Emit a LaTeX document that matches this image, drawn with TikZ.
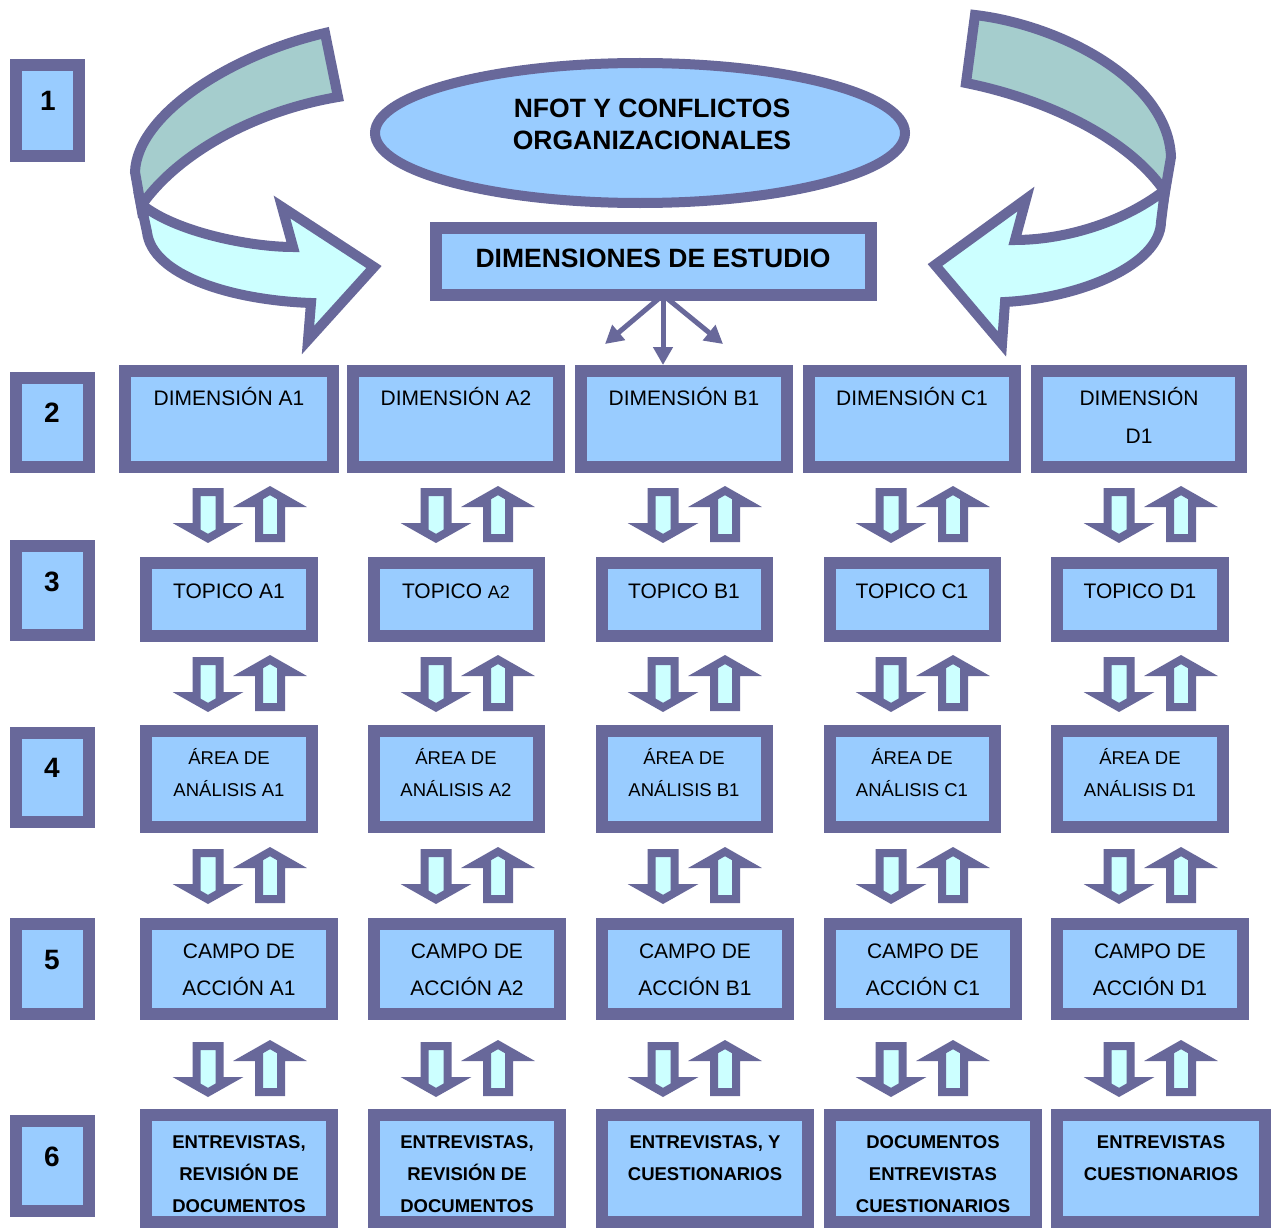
\documentclass[tikz,border=0pt]{standalone}
\usepackage{fontspec}
\setmainfont{Liberation Sans}
\usetikzlibrary{arrows.meta,calc,shapes.geometric}

\definecolor{frame}{RGB}{104,104,154}
\definecolor{boxfill}{RGB}{153,204,255}
\definecolor{backband}{RGB}{165,205,205}
\definecolor{frontband}{RGB}{204,255,255}

\tikzset{
  box/.style={draw=frame, fill=boxfill, line width=12pt, inner sep=0pt, outer sep=0pt, rectangle},
  lbl/.style={inner sep=0pt, text height=15pt, text depth=0pt, font=\fontsize{21}{25}\selectfont},
  smlbl/.style={inner sep=0pt, text height=13.3pt, text depth=0pt, font=\fontsize{18.5}{22}\selectfont},
  blbl/.style={inner sep=0pt, text height=13.3pt, text depth=0pt, font=\fontsize{18.5}{22}\selectfont\bfseries},
  headlbl/.style={inner sep=0pt, text height=19pt, text depth=0pt, font=\fontsize{26.5}{30}\selectfont\bfseries},
  numlbl/.style={inner sep=0pt, text height=20pt, text depth=0pt, font=\fontsize{28}{32}\selectfont\bfseries},
  ribbon/.style={draw=frame, line width=10pt, line join=miter},
  blockarrow/.style={draw=frame, fill=frontband, line width=8pt, line join=miter},
  fanarrow/.style={draw=frame, line width=5pt, -{Triangle[length=18pt,width=19pt]}},
}

% panel: name, left, top, right, bottom (outer edges of the frame)
\newcommand\panel[5]{%
  \pgfmathsetmacro\pcx{(#2+#4)/2}\pgfmathsetmacro\pcy{(#3+#5)/2}%
  \pgfmathsetmacro\pw{#4-#2-12}\pgfmathsetmacro\ph{#5-#3-12}%
  \node[box, minimum width=\pw pt, minimum height=\ph pt] (#1) at (\pcx,\pcy) {};%
}

\begin{document}
\begin{tikzpicture}[x=1pt,y=-1pt]
\fill[white] (0,0) rectangle (1271,1228);
\useasboundingbox (0,0) rectangle (1271,1228);

% ---- curved ribbons around the title ----
\draw[ribbon, fill=backband] (325,33) .. controls (230,55) and (137,115) .. (135,172)
  -- (141,206) .. controls (180,150) and (260,110) .. (338,97) -- cycle;
\draw[ribbon, fill=frontband] (141,204) .. controls (175,232) and (250,247) .. (293,247)
  -- (282,207) -- (374,267) -- (308,340) -- (311,303)
  .. controls (230,300) and (152,275) .. (147,232) -- cycle;

\draw[ribbon, fill=backband] (975,15) .. controls (1060,25) and (1168,80) .. (1171,157)
  -- (1165,192) .. controls (1130,140) and (1050,100) .. (966,83) -- cycle;
\draw[ribbon, fill=frontband] (1165,190) .. controls (1120,225) and (1060,240) .. (1015,240)
  -- (1026,199) -- (935,265) -- (1002,344) -- (1005,302)
  .. controls (1080,298) and (1160,265) .. (1161,222) -- cycle;

% ---- title ellipse ----
\node[ellipse, draw=frame, fill=boxfill, line width=10pt, inner sep=0pt,
      minimum width=530pt, minimum height=140pt] (nfot) at (640,133) {};
\node[headlbl] (nfota) at (652,108) {NFOT Y CONFLICTOS};
\node[headlbl] (nfotb) at (652,140) {ORGANIZACIONALES};

% ---- dimensiones de estudio ----
\panel{dimest}{430}{222}{877}{301}
\node[headlbl] (dimestt) at (653,258) {DIMENSIONES DE ESTUDIO};

\coordinate (fan) at ($(dimest.south)+(9.5,0)$);
\draw[fanarrow] (fan) -- (605,344);
\draw[fanarrow] (fan) -- (663,365);
\draw[fanarrow] (fan) -- (723,344);

% ---- level numbers ----
\panel{n1}{10}{59}{85}{162}     \node[numlbl] (n1t) at (48,101) {1};
\panel{n2}{10}{372}{95}{473}    \node[numlbl] (n2t) at (52,412) {2};
\panel{n3}{10}{540}{95}{641}    \node[numlbl] (n3t) at (52,581) {3};
\panel{n4}{10}{727}{95}{828}    \node[numlbl] (n4t) at (52,767) {4};
\panel{n5}{10}{918}{95}{1020}   \node[numlbl] (n5t) at (52,959) {5};
\panel{n6}{10}{1115}{95}{1217}  \node[numlbl] (n6t) at (52,1156) {6};

% ---- level 2: dimensions ----
\panel{d1}{119}{365}{339}{473}
\panel{d2}{347}{365}{565}{473}
\panel{d3}{575}{365}{793}{473}
\panel{d4}{803}{365}{1021}{473}
\panel{d5}{1031}{365}{1247}{473}
\node[lbl] (d1t) at (229,398) {DIMENSIÓN A1};
\node[lbl] (d2t) at (456,398) {DIMENSIÓN A2};
\node[lbl] (d3t) at (684,398) {DIMENSIÓN B1};
\node[lbl] (d4t) at (912,398) {DIMENSIÓN C1};
\node[lbl] (d5t) at (1139,398) {DIMENSIÓN};
\node[lbl] (d5u) at (1139,436) {D1};

% ---- level 3: topics ----
\panel{t1}{140}{557}{318}{642}
\panel{t2}{368}{557}{545}{642}
\panel{t3}{596}{557}{773}{642}
\panel{t4}{824}{557}{1001}{642}
\panel{t5}{1051}{557}{1229}{642}
\node[lbl] (t1t) at (229,591) {TOPICO A1};
\node[lbl] (t2t) at (456,591) {TOPICO {\fontsize{18}{20}\selectfont A2}};
\node[lbl] (t3t) at (684,591) {TOPICO B1};
\node[lbl] (t4t) at (912,591) {TOPICO C1};
\node[lbl] (t5t) at (1140,591) {TOPICO D1};

% ---- level 4: analysis areas ----
\panel{r1}{140}{725}{318}{833}
\panel{r2}{368}{725}{545}{833}
\panel{r3}{596}{725}{773}{833}
\panel{r4}{824}{725}{1001}{833}
\panel{r5}{1051}{725}{1229}{833}
\foreach \k/\cx/\lab in {1/229/A1, 2/456/A2, 3/684/B1, 4/912/C1, 5/1140/D1}{
  \node[smlbl] (r\k t) at (\cx,758) {ÁREA DE};
  \node[smlbl] (r\k u) at (\cx,790) {ANÁLISIS \lab};
}

% ---- level 5: fields of action ----
\panel{c1}{140}{918}{338}{1020}
\panel{c2}{368}{918}{566}{1020}
\panel{c3}{596}{918}{794}{1020}
\panel{c4}{824}{918}{1022}{1020}
\panel{c5}{1051}{918}{1249}{1020}
\foreach \k/\cx/\lab in {1/239/A1, 2/467/A2, 3/695/B1, 4/923/C1, 5/1150/D1}{
  \node[lbl] (c\k t) at (\cx,951) {CAMPO DE};
  \node[lbl] (c\k u) at (\cx,988) {ACCIÓN \lab};
}

% ---- level 6: instruments ----
\panel{e1}{140}{1109}{338}{1228}
\panel{e2}{368}{1109}{566}{1228}
\panel{e3}{596}{1109}{814}{1228}
\panel{e4}{824}{1109}{1042}{1228}
\panel{e5}{1051}{1109}{1271}{1228}
\node[blbl] (e1a) at (239,1142) {ENTREVISTAS,};
\node[blbl] (e1b) at (239,1174) {REVISIÓN DE};
\node[blbl] (e1c) at (239,1206) {DOCUMENTOS};
\node[blbl] (e2a) at (467,1142) {ENTREVISTAS,};
\node[blbl] (e2b) at (467,1174) {REVISIÓN DE};
\node[blbl] (e2c) at (467,1206) {DOCUMENTOS};
\node[blbl] (e3a) at (705,1142) {ENTREVISTAS, Y};
\node[blbl] (e3b) at (705,1174) {CUESTIONARIOS};
\node[blbl] (e4a) at (933,1142) {DOCUMENTOS};
\node[blbl] (e4b) at (933,1174) {ENTREVISTAS};
\node[blbl] (e4c) at (933,1206) {CUESTIONARIOS};
\node[blbl] (e5a) at (1161,1142) {ENTREVISTAS};
\node[blbl] (e5b) at (1161,1174) {CUESTIONARIOS};

% ---- paired down/up block arrows between levels ----
\foreach \c in {229,457,684,912,1140}{
  \foreach \y in {486,655,847,1040}{
    \pgfmathsetmacro\xd{\c-21}
    \pgfmathsetmacro\xu{\c+41}
    \draw[blockarrow] (\xd-11.5,\y+6) -- (\xd+11.5,\y+6) -- (\xd+11.5,\y+41)
      -- (\xd+20.2,\y+41) -- (\xd,\y+52.4) -- (\xd-20.2,\y+41) -- (\xd-11.5,\y+41) -- cycle;
    \draw[blockarrow] (\xu-11,\y+52) -- (\xu+11,\y+52) -- (\xu+11,\y+17)
      -- (\xu+21.8,\y+17) -- (\xu,\y+4.6) -- (\xu-21.8,\y+17) -- (\xu-11,\y+17) -- cycle;
  }
}
\end{tikzpicture}
\end{document}
